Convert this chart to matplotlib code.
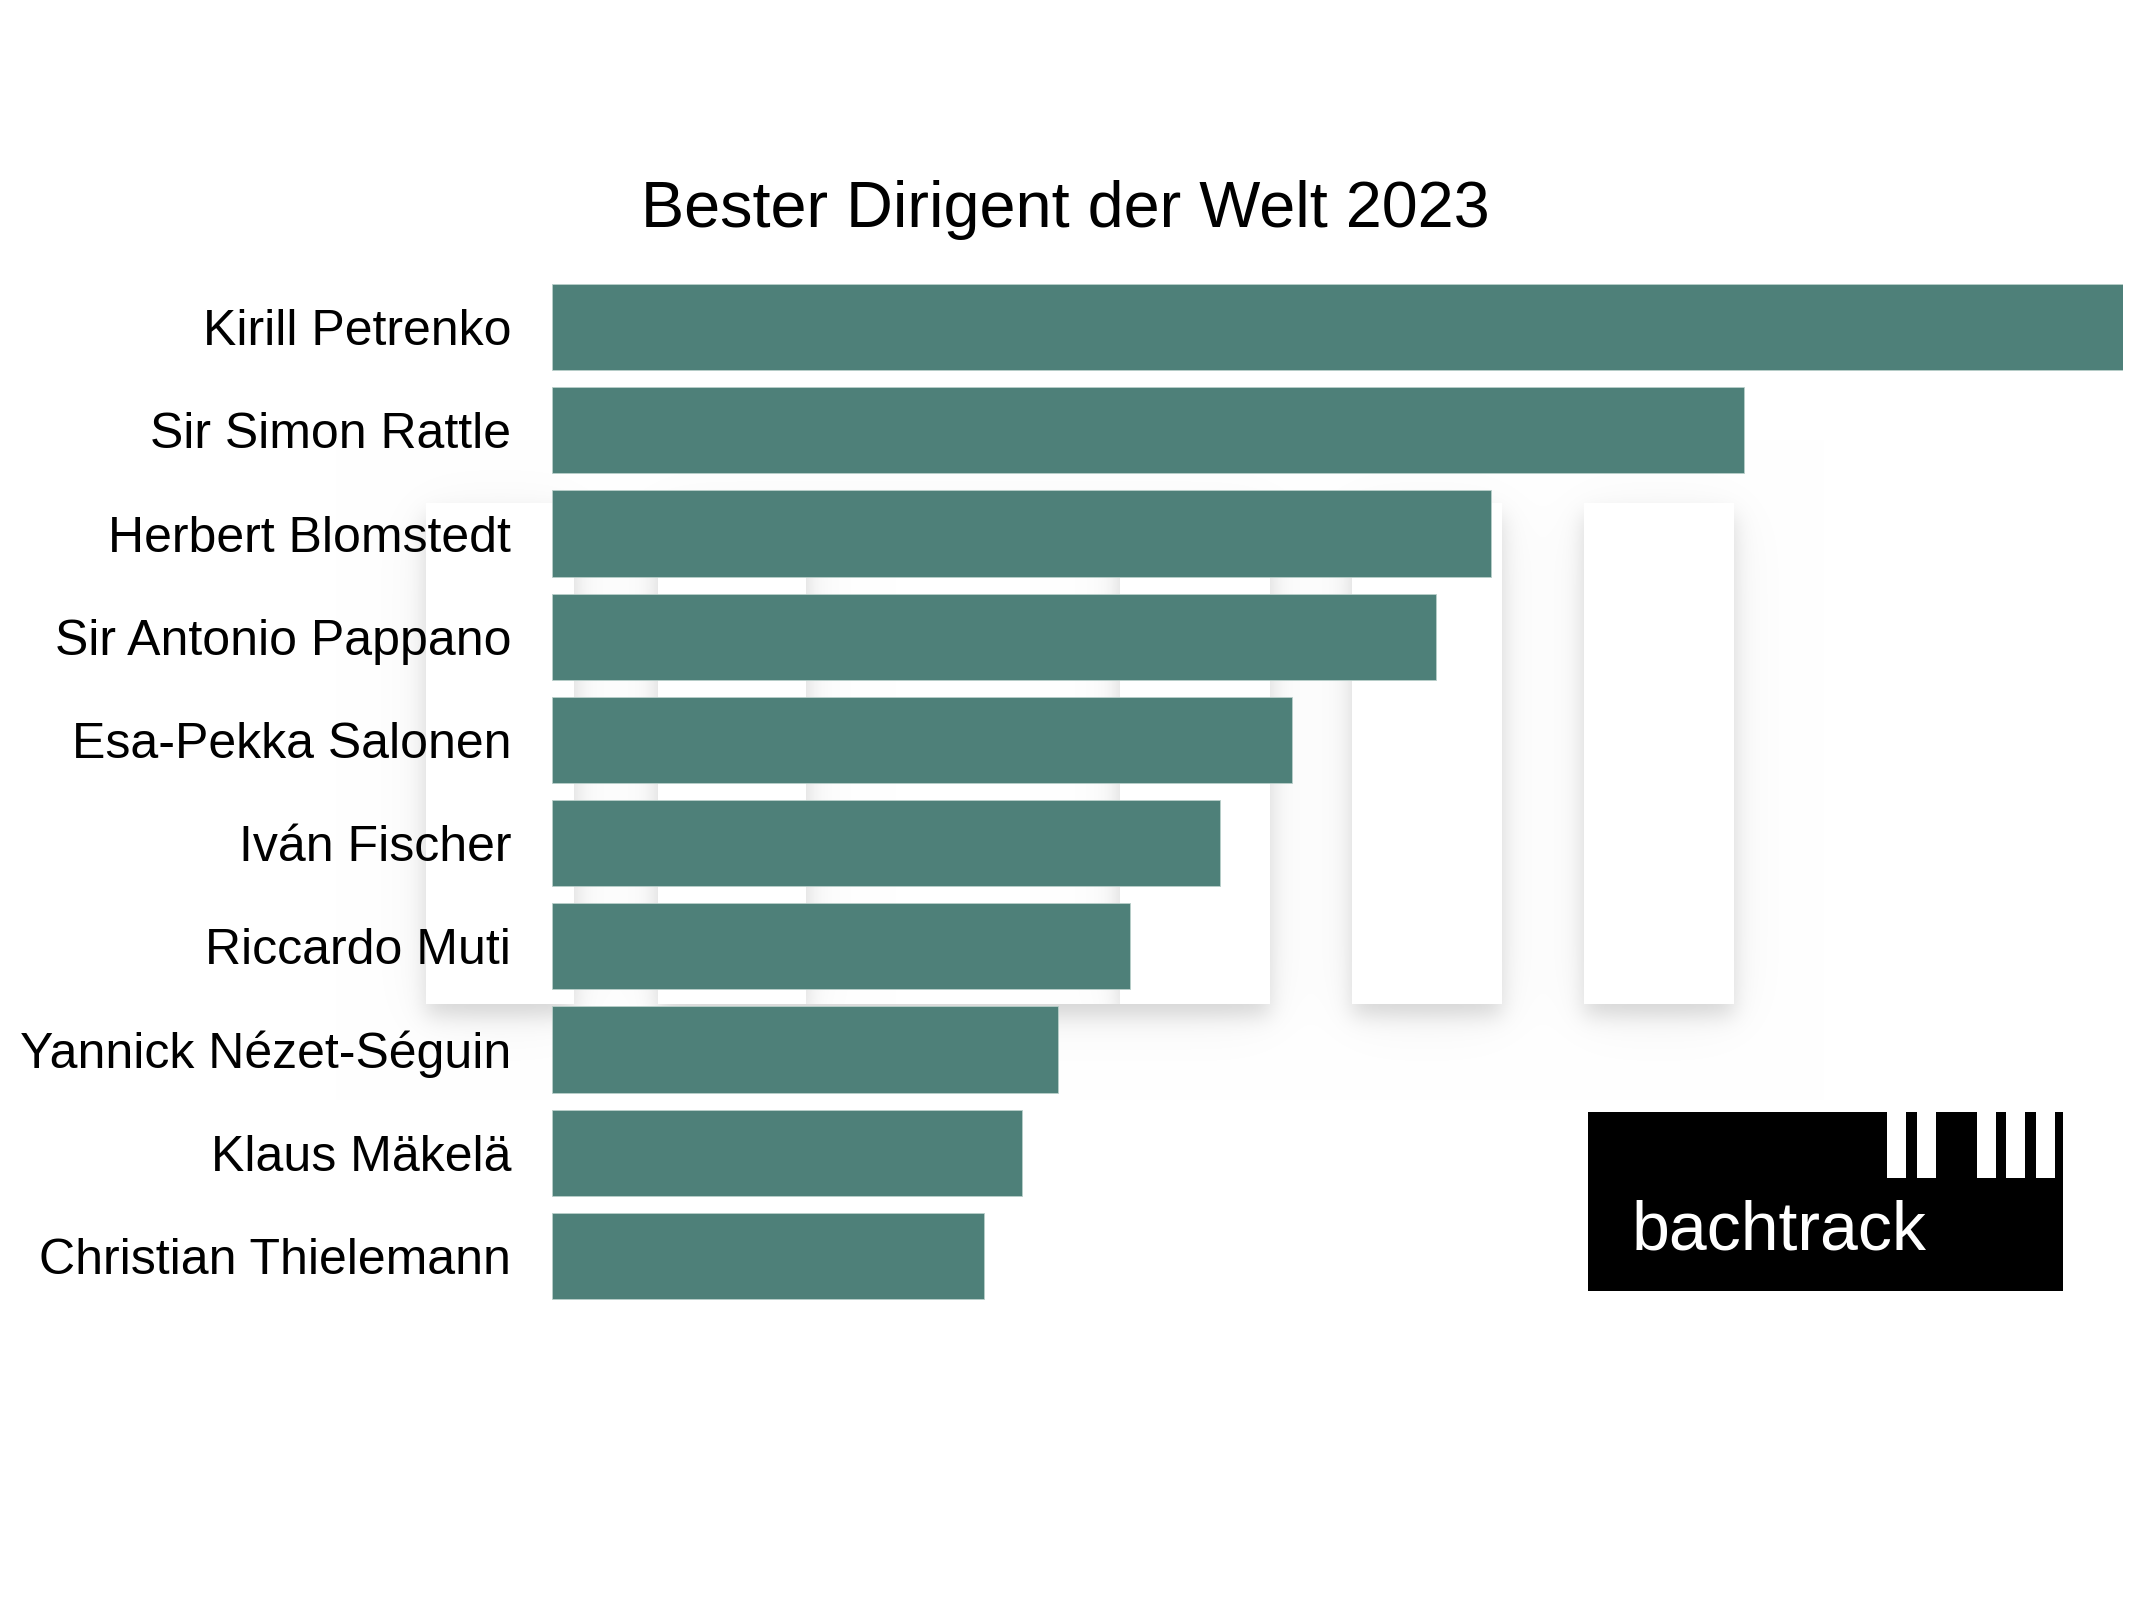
import numpy as np
import matplotlib.pyplot as plt
from matplotlib.patches import Rectangle

plt.rcParams['font.family'] = ['Liberation Sans', 'DejaVu Sans']

# data (estimated relative scores, top conductor = 100)
conductors = ['Kirill Petrenko', 'Sir Simon Rattle', 'Herbert Blomstedt',
              'Sir Antonio Pappano', 'Esa-Pekka Salonen', 'Iván Fischer',
              'Riccardo Muti', 'Yannick Nézet-Séguin', 'Klaus Mäkelä',
              'Christian Thielemann']
scores = [100, 75.9, 59.8, 56.3, 47.1, 42.5, 36.8, 32.2, 29.9, 27.5]
title = 'Bester Dirigent der Welt 2023'

W, H = 2132, 1600
BAR_COLOR = '#4e8079'


def blur(a, sigma):
    r = int(3 * sigma)
    k = np.exp(-0.5 * (np.arange(-r, r + 1) / sigma) ** 2)
    k /= k.sum()
    a = np.apply_along_axis(lambda v: np.convolve(v, k, mode='same'), 0, a)
    a = np.apply_along_axis(lambda v: np.convolve(v, k, mode='same'), 1, a)
    return a


def shadow(mask, dy=12):
    m = np.roll(mask.astype(float), dy, axis=0)
    return 0.12 * blur(m, 10) + 0.06 * blur(m, 30)


fig = plt.figure(figsize=(W / 100, H / 100), dpi=100)
fig.patch.set_facecolor('white')

# faded piano-key background
bg = fig.add_axes([0, 0, 1, 1], zorder=0)
bg.set_xlim(0, W)
bg.set_ylim(H, 0)
bg.axis('off')

x0, x1, y0, y1 = 330, 1830, 440, 1100
gx, gy = np.meshgrid(np.arange(x0, x1), np.arange(y0, y1))
top, bottom = 503, 1004
back_key = (806, 1120)
front_keys = [(426, 574), (658, 806), (1120, 1270), (1352, 1502), (1584, 1734)]

def key_mask(a, b):
    return (gx >= a) & (gx < b) & (gy >= top) & (gy < bottom)

img = np.ones(gx.shape)
m_back = key_mask(*back_key)
img -= shadow(m_back)
img[m_back] = 1.0
m_front = np.zeros(gx.shape, dtype=bool)
for a, b in front_keys:
    m_front |= key_mask(a, b)
img -= shadow(m_front)
img[m_front] = 1.0
img = np.clip(img, 0, 1)
bg.imshow(np.dstack([img, img, img]), extent=(x0, x1, y1, y0),
          interpolation='bilinear', aspect='auto')

# bachtrack logo
bg.add_patch(Rectangle((1588, 1112), 475, 179, facecolor='black', edgecolor='none'))
for kx in [1887, 1917, 1977, 2006, 2036]:
    bg.add_patch(Rectangle((kx, 1111), 19, 67, facecolor='white', edgecolor='none'))
bg.text(1632, 1250, 'bachtrack', color='white', fontsize=49, va='baseline', ha='left')

# bars
ax = fig.add_axes([552 / W, 1 - 1307.5 / H, (2123 - 552) / W, (1307.5 - 275.5) / H], zorder=1)
ax.patch.set_alpha(0)
y = np.arange(len(conductors))
ax.barh(y, scores, height=0.835, color=BAR_COLOR, edgecolor='#b9cfca', linewidth=0.6)
ax.set_xlim(0, max(scores))
ax.set_ylim(len(conductors) - 0.5, -0.5)
ax.set_yticks(y)
ax.set_yticklabels(conductors)
ax.set_xticks([])
ax.tick_params(axis='y', length=0, pad=29.5, labelsize=36)
for s in ax.spines.values():
    s.set_visible(False)

fig.text(1065 / W, 1 - 227 / H, title, ha='center', va='baseline', fontsize=46.6)

fig.savefig('out.png', dpi=100)
